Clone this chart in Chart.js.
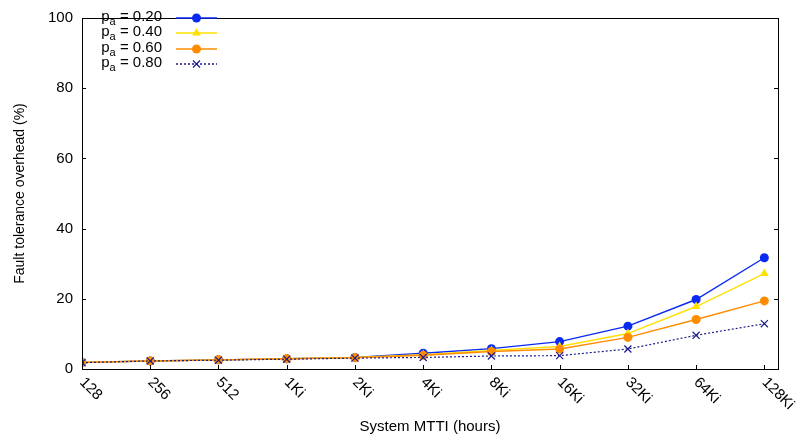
<!DOCTYPE html>
<html>
<head>
<meta charset="utf-8">
<script src="https://cdn.jsdelivr.net/npm/chart.js@4.4.1/dist/chart.umd.min.js"></script>
<style>
  html, body { margin: 0; padding: 0; background: #fff; }
  #wrap { width: 800px; height: 441px; position: relative; }
</style>
</head>
<body>
<div id="wrap"><canvas id="ftChart"></canvas></div>
<script>
// MTTI categories (hours) and overhead per p_a value
var mttiLabels = ['128', '256', '512', '1Ki', '2Ki', '4Ki', '8Ki', '16Ki', '32Ki', '64Ki', '128Ki'];
var paValues = ['0.20', '0.40', '0.60', '0.80'];
var overheadPa020 = [1.9, 2.3, 2.6, 2.9, 3.3, 4.5, 5.8, 7.8, 12.2, 19.8, 31.7];
var overheadPa040 = [1.9, 2.3, 2.6, 2.9, 3.3, 4.1, 5.3, 6.4, 10.1, 17.8, 27.2];
var overheadPa060 = [1.9, 2.3, 2.6, 2.9, 3.2, 3.9, 5.0, 5.7, 9.0, 14.1, 19.4];
var overheadPa080 = [1.8, 2.3, 2.5, 2.8, 3.1, 3.3, 3.7, 3.8, 5.7, 9.6, 12.9];
var yTicks = [0, 20, 40, 60, 80, 100];

var FONT = "'Liberation Sans', Arial, sans-serif";

function toPoints(arr) {
  return arr.map(function (v, i) { return { x: i, y: v }; });
}

var seriesStyle = [
  { color: '#0a2af2', point: 'circle', radius: 4.5, dash: [], width: 1.4 },
  { color: '#ffe000', point: 'triangle', radius: 5, dash: [], width: 1.4 },
  { color: '#ff8c00', point: 'circle', radius: 4.5, dash: [], width: 1.4 },
  { color: '#1c1c8c', point: 'crossRot', radius: 5, dash: [2, 2], width: 1.2 }
];
var seriesData = [overheadPa020, overheadPa040, overheadPa060, overheadPa080];

var datasets = seriesData.map(function (arr, k) {
  var s = seriesStyle[k];
  return {
    label: 'p_a = ' + paValues[k],
    data: toPoints(arr),
    borderColor: s.color,
    backgroundColor: s.color,
    borderWidth: s.width,
    borderDash: s.dash,
    pointStyle: s.point,
    pointRadius: s.radius,
    pointBorderWidth: s.point === 'crossRot' ? 1.2 : 0,
    pointBorderColor: s.color,
    pointBackgroundColor: s.color,
    tension: 0,
    order: 4 - k
  };
});

// frame, inward ticks, rotated x labels and the legend, gnuplot style
var gnuplotDecor = {
  id: 'gnuplotDecor',
  afterDraw: function (chart) {
    var ctx = chart.ctx;
    var a = chart.chartArea;
    var xs = chart.scales.x, ys = chart.scales.y;
    ctx.save();
    ctx.strokeStyle = '#000';
    ctx.lineWidth = 1;
    ctx.setLineDash([]);
    ctx.strokeRect(Math.round(a.left) + 0.5, Math.round(a.top) + 0.5,
      Math.round(a.right - a.left), Math.round(a.bottom - a.top));

    ctx.beginPath();
    yTicks.forEach(function (v) {
      var py = Math.round(ys.getPixelForValue(v)) + 0.5;
      ctx.moveTo(a.left, py); ctx.lineTo(a.left + 4, py);
      ctx.moveTo(a.right, py); ctx.lineTo(a.right - 4, py);
    });
    mttiLabels.forEach(function (lab, i) {
      var px = Math.round(xs.getPixelForValue(i)) + 0.5;
      ctx.moveTo(px, a.bottom); ctx.lineTo(px, a.bottom - 4);
    });
    ctx.stroke();

    ctx.fillStyle = '#000';
    ctx.font = '15px ' + FONT;
    ctx.textAlign = 'left';
    ctx.textBaseline = 'middle';
    mttiLabels.forEach(function (lab, i) {
      var px = xs.getPixelForValue(i);
      ctx.save();
      ctx.translate(px, a.bottom + 11);
      ctx.rotate(Math.PI / 4);
      ctx.fillText(lab, 0, 0);
      ctx.restore();
    });

    // legend
    var rowY = [18, 33, 49, 64];
    var textRight = 162, lineL = 176, lineR = 217;
    chart.data.datasets.forEach(function (ds, k) {
      var y = rowY[k];
      var s = seriesStyle[k];
      var rest = ' = ' + paValues[k];
      ctx.font = '15px ' + FONT;
      var wRest = ctx.measureText(rest).width;
      var wP = ctx.measureText('p').width;
      ctx.font = '11px ' + FONT;
      var wSub = ctx.measureText('a').width;
      var x0 = textRight - wRest - wSub - wP;
      ctx.fillStyle = '#000';
      ctx.textAlign = 'left';
      ctx.textBaseline = 'middle';
      ctx.font = '15px ' + FONT;
      ctx.fillText('p', x0, y - 1);
      ctx.font = '11px ' + FONT;
      ctx.fillText('a', x0 + wP, y + 4);
      ctx.font = '15px ' + FONT;
      ctx.fillText(rest, x0 + wP + wSub, y - 1);

      ctx.strokeStyle = s.color;
      ctx.fillStyle = s.color;
      ctx.lineWidth = 1.5;
      ctx.setLineDash(s.dash);
      ctx.beginPath();
      ctx.moveTo(lineL, y);
      ctx.lineTo(lineR, y);
      ctx.stroke();
      ctx.setLineDash([]);
      ctx.lineWidth = 1.2;
      Chart.helpers.drawPoint(ctx, {
        pointStyle: s.point, radius: s.radius, rotation: 0,
        borderWidth: s.point === 'crossRot' ? 1.2 : 0
      }, (lineL + lineR) / 2, y);
    });
    ctx.restore();
  }
};

var config = {
  type: 'line',
  data: { datasets: datasets },
  options: {
    responsive: true,
    maintainAspectRatio: false,
    animation: false,
    layout: { padding: { top: 8, right: 22, left: 0, bottom: 0 } },
    plugins: {
      legend: { display: false },
      tooltip: { enabled: false }
    },
    scales: {
      x: {
        type: 'linear',
        min: 0,
        max: 10.2,
        afterBuildTicks: function (scale) {
          scale.ticks = mttiLabels.map(function (l, i) { return { value: i }; });
        },
        afterFit: function (scale) { scale.height = 72; },
        grid: { display: false, drawTicks: false },
        border: { display: false },
        ticks: { display: false },
        title: {
          display: true,
          text: 'System MTTI (hours)',
          color: '#000',
          font: { family: FONT, size: 15 },
          padding: { top: 0, bottom: 5 }
        }
      },
      y: {
        min: 0,
        max: 100,
        afterBuildTicks: function (scale) {
          scale.ticks = yTicks.map(function (v) { return { value: v }; });
        },
        afterFit: function (scale) { scale.width = 82; },
        grid: { display: false, drawTicks: false },
        border: { display: false },
        ticks: {
          color: '#000',
          padding: 9,
          font: { family: FONT, size: 15 }
        },
        title: {
          display: true,
          text: 'Fault tolerance overhead (%)',
          color: '#000',
          font: { family: FONT, size: 14 },
          padding: { top: 12, bottom: 0 }
        }
      }
    }
  },
  plugins: [gnuplotDecor]
};

new Chart(document.getElementById('ftChart'), config);
</script>
</body>
</html>
